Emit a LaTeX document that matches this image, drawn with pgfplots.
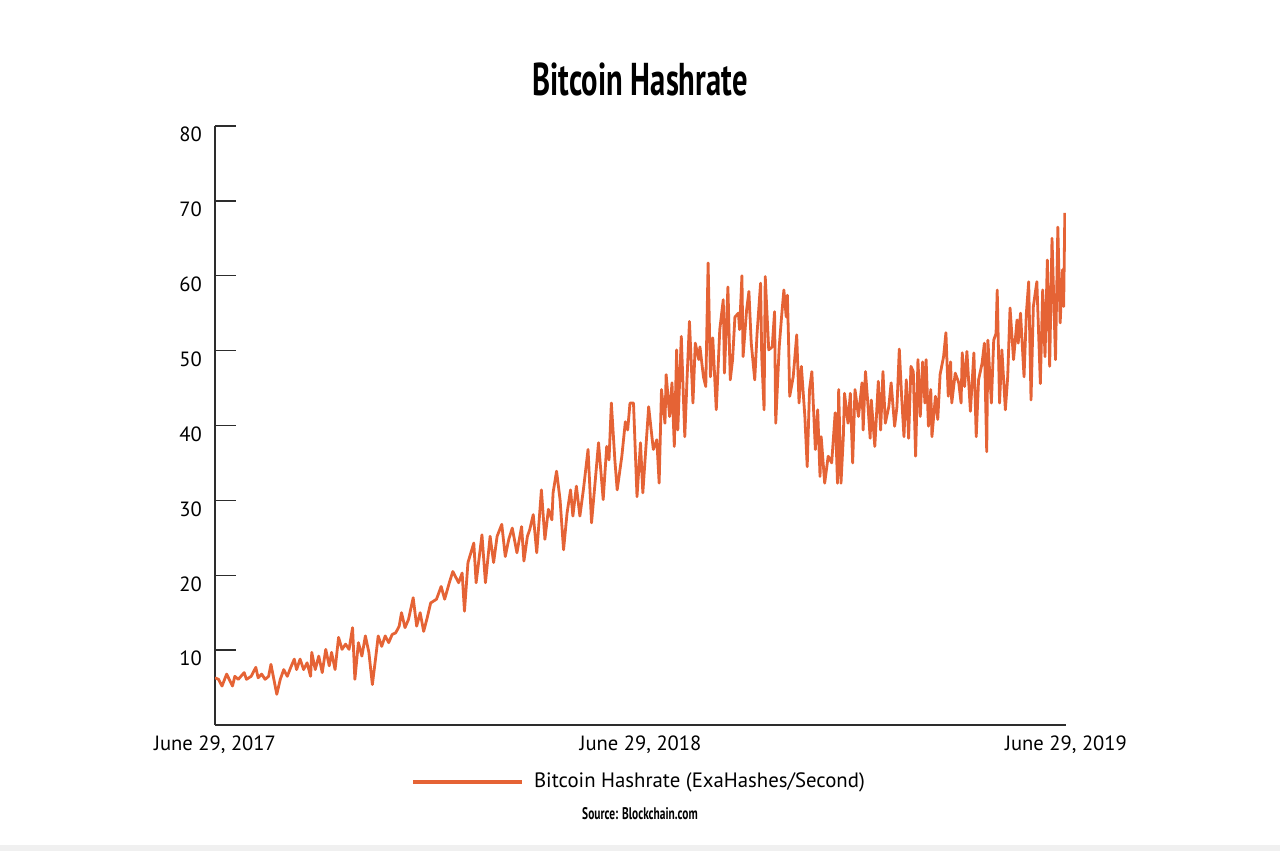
\documentclass[border=0pt]{standalone}
\usepackage{fontspec}
\usepackage{pgfplots}
\pgfplotsset{compat=1.18}
\setmainfont{PT Sans}
\newfontfamily\condfont[FakeStretch=0.665]{PT Sans}
\newfontfamily\srcfont[FakeStretch=0.68]{PT Sans}

\definecolor{hashorange}{RGB}{229,99,53}
\definecolor{axisgray}{RGB}{45,45,45}

% daily hashrate, x = days since 29 June 2017, y = EH/s
\pgfplotstableread{
day rate
0 6.3
3 6.1
6 5.2
10 6.8
15 5.2
17 6.5
20 6.1
25 7.0
27 6.1
31 6.5
35 7.7
37 6.3
40 6.8
43 6.1
46 6.5
48 8.1
50 6.5
53 4.1
56 6.1
59 7.4
62 6.5
65 7.7
68 8.8
70 7.4
73 8.8
76 7.4
79 8.3
82 6.5
83 9.7
86 7.4
89 9.2
92 7.0
95 10.1
98 7.9
100 9.7
103 7.4
106 11.7
109 10.1
112 10.8
115 10.1
118 13.0
120 6.1
123 11.0
126 9.2
129 11.9
132 9.7
135 5.4
138 9.2
140 11.9
143 10.5
146 11.9
149 11.0
152 12.1
155 12.3
158 13.2
160 15.0
163 13.0
166 14.1
170 17.0
173 13.2
176 15.0
179 12.5
182 14.3
185 16.3
190 16.8
194 18.5
197 16.8
201 19.0
204 20.5
209 19.0
212 20.3
214 15.2
217 21.7
222 24.3
224 19.0
229 25.4
232 19.0
236 25.2
239 21.7
242 25.2
246 26.8
249 22.5
252 24.8
255 26.3
259 23.0
263 26.5
265 21.9
268 25.2
270 26.1
273 28.1
276 23.0
280 31.4
283 24.8
286 28.8
289 27.4
290 31.0
293 33.9
296 30.1
299 23.4
302 28.3
305 31.4
307 27.9
310 31.9
313 27.9
316 31.4
318 34.1
320 36.8
323 27.0
326 32.3
329 37.7
333 30.1
336 37.2
338 35.4
340 43.0
343 35.4
345 31.4
349 35.9
352 40.5
354 39.4
356 43.0
359 43.0
362 30.5
365 37.7
367 31.0
372 42.5
376 36.8
379 38.1
381 32.3
383 44.8
386 40.3
387 46.8
390 41.2
392 45.7
394 37.2
396 50.1
397 39.4
400 51.9
403 38.5
405 46.5
407 53.9
410 43.0
412 51.0
415 48.8
416 50.5
419 46.5
421 45.2
423 61.7
425 46.5
427 51.7
430 42.1
433 52.8
436 56.8
437 47.0
440 58.5
442 46.1
444 48.8
446 54.5
449 55.0
450 52.8
452 60.0
453 49.2
456 55.4
458 57.9
460 51.0
463 46.1
465 52.3
468 59.0
469 49.2
471 42.1
472 59.9
475 50.1
478 50.5
480 55.2
481 40.3
484 50.5
486 54.5
488 58.1
490 54.5
491 57.4
492 51.4
493 43.9
496 46.5
499 52.1
501 43.0
503 47.9
506 41.2
508 34.5
510 44.8
512 47.2
515 36.8
517 42.1
519 33.2
520 38.5
523 32.3
526 35.9
529 35.0
532 41.7
534 32.3
535 44.8
537 32.3
539 38.5
540 44.3
543 40.3
545 44.3
547 35.0
549 44.8
552 41.2
555 45.7
556 39.4
558 47.2
560 43.0
562 38.3
563 43.4
566 37.2
569 45.9
571 39.4
573 47.2
575 40.3
578 42.5
580 45.7
583 39.9
585 42.5
587 50.2
589 43.9
591 38.5
593 46.1
595 38.3
597 47.9
599 47.2
601 35.9
603 48.8
605 41.2
607 48.5
609 43.0
610 48.8
612 39.9
614 44.8
615 38.5
618 43.9
620 40.8
622 46.8
625 49.2
627 52.4
629 43.9
631 48.5
632 43.0
635 47.0
638 45.7
640 43.0
641 49.7
643 45.2
645 49.9
648 41.9
651 49.7
653 38.5
655 46.1
658 48.3
660 51.0
662 36.5
663 51.4
666 43.0
668 51.4
670 52.3
671 58.1
673 43.0
675 50.1
678 42.1
680 46.5
682 55.7
685 48.8
688 54.1
689 51.0
691 55.0
694 46.5
696 55.0
698 59.2
700 43.4
702 55.9
705 59.2
708 45.6
710 58.1
712 49.2
714 62.1
716 47.9
718 65.0
721 48.8
723 66.5
725 53.7
727 60.8
728 55.9
729 68.4
}\hashrate

\begin{document}
\begin{tikzpicture}
\useasboundingbox (-107.5pt,-63pt) rectangle (532.5pt,362.5pt);
\begin{axis}[
    at={(0,0)}, anchor=south west,
    scale only axis,
    width=425.5pt, height=299.5pt,
    xmin=0, xmax=730, ymin=0, ymax=80,
    axis lines=left,
    axis line style={-, axisgray, line width=0.7pt},
    xtick={0,365,730},
    xticklabels={{June 29, 2017},{June 29, 2018},{June 29, 2019}},
    xtick style={draw=none},
    ytick={10,20,...,80},
    ytick style={axisgray, line width=0.7pt},
    tick align=inside,
    major tick length=10.5pt,
    tick label style={font=\fontsize{10.3}{12}\selectfont, text=black},
    yticklabel style={xshift=-3pt, yshift=-4.3pt},
    xticklabel style={yshift=-2pt},
    /pgf/number format/assume math mode=true,
    legend style={draw=none, fill=none, at={(0.4994,-0.0952)}, anchor=center,
        font=\fontsize{10.4}{12}\selectfont, inner sep=0pt},
    legend cell align=left,
    legend image code/.code={
        \path[draw=none] (0pt,0pt) -- (58.5pt,0pt);
        \draw[hashorange, line width=2pt] (0pt,0pt) -- (54.5pt,0pt);},
]
\addplot[hashorange, line width=1.4pt, line join=round] table[x=day, y=rate] {\hashrate};
\addlegendentry{Bitcoin Hashrate (ExaHashes/Second)}
\end{axis}
\node[font=\condfont\bfseries\fontsize{23}{26}\selectfont] at (212.5pt,323pt) {Bitcoin Hashrate};
\node[font=\srcfont\bfseries\fontsize{8.4}{10}\selectfont] at (212.5pt,-44.5pt) {Source: Blockchain.com};
\fill[black!6] (-107.5pt,-63pt) rectangle (532.5pt,-60pt);
\end{tikzpicture}
\end{document}
